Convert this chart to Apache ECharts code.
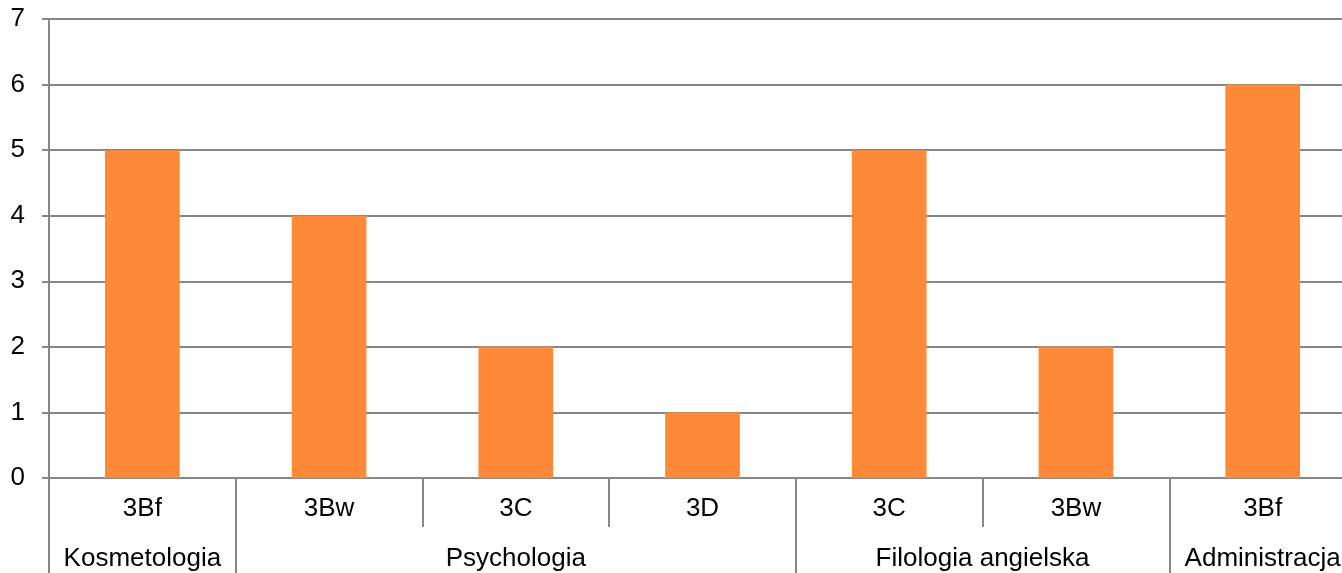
<!DOCTYPE html>
<html>
<head>
<meta charset="utf-8">
<script src="https://cdn.jsdelivr.net/npm/echarts@6/dist/echarts.min.js"></script>
<style>
html,body{margin:0;padding:0;background:#fff;}
#chart{width:1342px;height:573px;}
</style>
</head>
<body>
<div id="chart"></div>
<script>
const categories = ['3Bf', '3Bw', '3C', '3D', '3C', '3Bw', '3Bf'];
const values = [5, 4, 2, 1, 5, 2, 6];
const groups = ['Kosmetologia', 'Psychologia', 'Filologia angielska', 'Administracja'];
const groupSizes = [1, 3, 2, 1];
const yTicks = [0, 1, 2, 3, 4, 5, 6, 7];

const boundaries = [0];
const centers = [];
groupSizes.forEach(function (s) {
  const start = boundaries[boundaries.length - 1];
  centers.push(start + s / 2);
  boundaries.push(start + s);
});

const FONT = 'Liberation Sans, Arial, sans-serif';
const GRAY = '#878787';

const chart = echarts.init(document.getElementById('chart'));
chart.setOption({
  animation: false,
  backgroundColor: '#fff',
  grid: { left: 49, top: 19, bottom: 95, width: 1307, containLabel: false, outerBoundsMode: 'none' },
  xAxis: [
    {
      type: 'category',
      data: categories,
      position: 'bottom',
      axisLine: { show: true, lineStyle: { color: GRAY, width: 2 } },
      axisTick: { show: true, alignWithLabel: false, interval: 0, length: 49, lineStyle: { color: GRAY, width: 2 } },
      axisLabel: { interval: 0, color: '#000', fontFamily: FONT, fontSize: 26, margin: 18 },
      splitLine: { show: false }
    },
    {
      type: 'value',
      min: 0,
      max: categories.length,
      position: 'bottom',
      offset: 49,
      axisLine: { show: false },
      axisTick: { show: true, customValues: boundaries, length: 50, lineStyle: { color: GRAY, width: 2 } },
      axisLabel: {
        show: true,
        customValues: centers,
        color: '#000', fontFamily: FONT, fontSize: 26, margin: 19,
        formatter: function (v) {
          const i = centers.indexOf(v);
          return i >= 0 ? groups[i] : '';
        }
      },
      splitLine: { show: false }
    }
  ],
  yAxis: {
    type: 'value',
    min: yTicks[0],
    max: yTicks[yTicks.length - 1],
    interval: 1,
    axisLine: { show: true, lineStyle: { color: GRAY, width: 2 } },
    axisTick: { show: true, length: 7, lineStyle: { color: GRAY, width: 2 } },
    axisLabel: { color: '#000', fontFamily: FONT, fontSize: 26, margin: 24 },
    splitLine: { show: true, lineStyle: { color: GRAY, width: 2 } }
  },
  series: [
    {
      type: 'bar',
      xAxisIndex: 0,
      data: values,
      barWidth: '40%',
      itemStyle: { color: '#FE8A39' }
    }
  ]
});
</script>
</body>
</html>
